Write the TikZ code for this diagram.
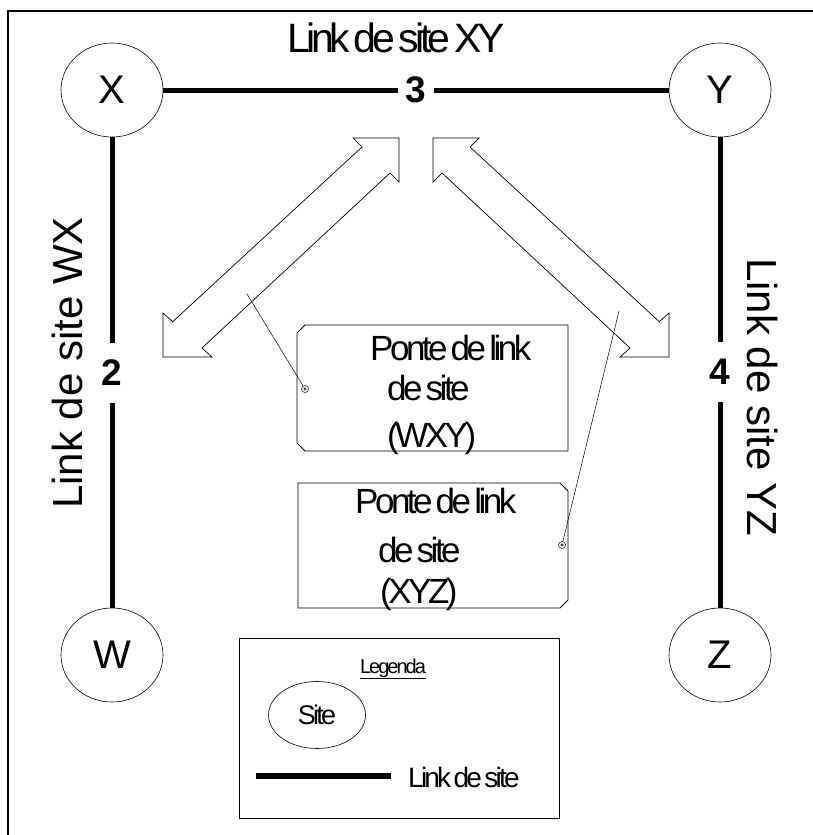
\documentclass[tikz,border=0pt]{standalone}
\usepackage{fontspec}
\setmainfont{Liberation Sans}
\newfontfamily\tightfont[LetterSpace=-10, WordSpace=0.5]{Liberation Sans}
\usetikzlibrary{positioning, shapes.geometric}
\tikzset{
  site/.style     = {draw, ellipse, line width=0.6pt, inner sep=0pt,
                     minimum width=102pt, minimum height=94pt,
                     font=\fontsize{40}{48}\selectfont},
  link/.style     = {line width=5pt},
  linknum/.style  = {inner sep=0pt, font=\fontsize{37}{40}\selectfont\bfseries},
  linkname/.style = {inner sep=0pt, font=\fontsize{42}{50}\selectfont},
  bigarrow/.style = {line width=0.7pt, fill=white},
  bridge/.style   = {line width=0.8pt},
  bridgetxt/.style= {inner sep=0pt, anchor=base west,
                     font=\tightfont\fontsize{35}{40}\selectfont},
  marker/.style   = {draw, circle, inner sep=0pt, minimum size=7pt, line width=0.5pt},
  leader/.style   = {line width=0.5pt},
}

\begin{document}
\begin{tikzpicture}[x=1pt, y=-1pt]
  \useasboundingbox (0,0) rectangle (812,835);
  % frame, its right and bottom sides fall just off the page
  \draw[line width=2pt] (8,11) rectangle (816,839);

  % sites
  \node[site] (X) at (112,90)  {X};
  \node[site] (Y) at (720,90)  {Y};
  \node[site] (W) at (112,655) {W};
  \node[site] (Z) at (720,655) {Z};

  % links with their numbers
  \node[linknum, minimum width=35pt]  (n3) at (416,90)  {3};
  \node[linknum, minimum height=59pt] (n2) at (112,373) {2};
  \node[linknum, minimum height=59pt] (n4) at (720,372) {4};
  \draw[link] (X) -- (n3) -- (Y);
  \draw[link] (X) -- (n2) -- (W);
  \draw[link] (Y) -- (n4) -- (Z);

  \node[inner sep=0pt, anchor=base, font=\tightfont\fontsize{41}{48}\selectfont]
    (tXY) at (396,52) {Link de site XY};
  \node[linkname, rotate=90, anchor=base]  (tWX) at (82,363)  {Link de site WX};
  \node[linkname, rotate=-90, anchor=base] (tYZ) at (747,397) {Link de site YZ};

  % double arrows (right one mirrored)
  \foreach \s/\dx in {1/0, -1/832} {
    \begin{scope}[xshift=\dx pt, xscale=\s]
      \draw[bigarrow] (399,138) -- (353,138) -- (362,147) -- (172.7,321.7)
        -- (163,313) -- (163,357) -- (212,357) -- (202,348) -- (390,173)
        -- (399,182) -- cycle;
    \end{scope}
  }

  % bridge WXY
  \draw[bridge] (305,325) -- (568,325) -- (568,451) -- (305,451)
    -- (297,443) -- (297,333) -- cycle;
  \node[bridgetxt] (b1a) at (370,360) {Ponte de link};
  \node[bridgetxt] (b1b) at (387,400) {de site};
  \node[bridgetxt] (b1c) at (387,447) {(WXY)};
  \node[marker] (m1) at (305,389) {};
  \draw[leader] (m1.center) circle (1.3pt);
  \coordinate (s1) at (247,294);
  \draw[leader] (s1) -- (m1);

  % bridge XYZ
  \draw[bridge] (298,483) -- (560,483) -- (568,491) -- (568,600)
    -- (560,608) -- (298,608) -- cycle;
  \node[bridgetxt] (b2a) at (355,513) {Ponte de link};
  \node[bridgetxt] (b2b) at (378,562) {de site};
  \node[bridgetxt] (b2c) at (380,603) {(XYZ)};
  \node[marker] (m2) at (562,545) {};
  \draw[leader] (m2.center) circle (1.3pt);
  \coordinate (s2) at (619,311);
  \draw[leader] (s2) -- (m2);

  % legend
  \draw[line width=0.8pt] (239,638) rectangle (559,818);
  \node[inner sep=0pt, anchor=base, font=\tightfont\fontsize{20}{24}\selectfont]
    (leg) at (393,673) {\underline{Legenda}};
  \node[draw, ellipse, line width=0.6pt, minimum width=97pt, minimum height=67pt,
        inner sep=0pt, font=\tightfont\fontsize{27}{32}\selectfont]
    (lsite) at (317,715) {Site};
  \coordinate (la) at (256,776);
  \coordinate (lb) at (391,776);
  \draw[line width=6pt] (la) -- (lb);
  \node[inner sep=0pt, anchor=west, font=\tightfont\fontsize{28}{32}\selectfont]
    (llink) at (408,777) {Link de site};
\end{tikzpicture}
\end{document}
